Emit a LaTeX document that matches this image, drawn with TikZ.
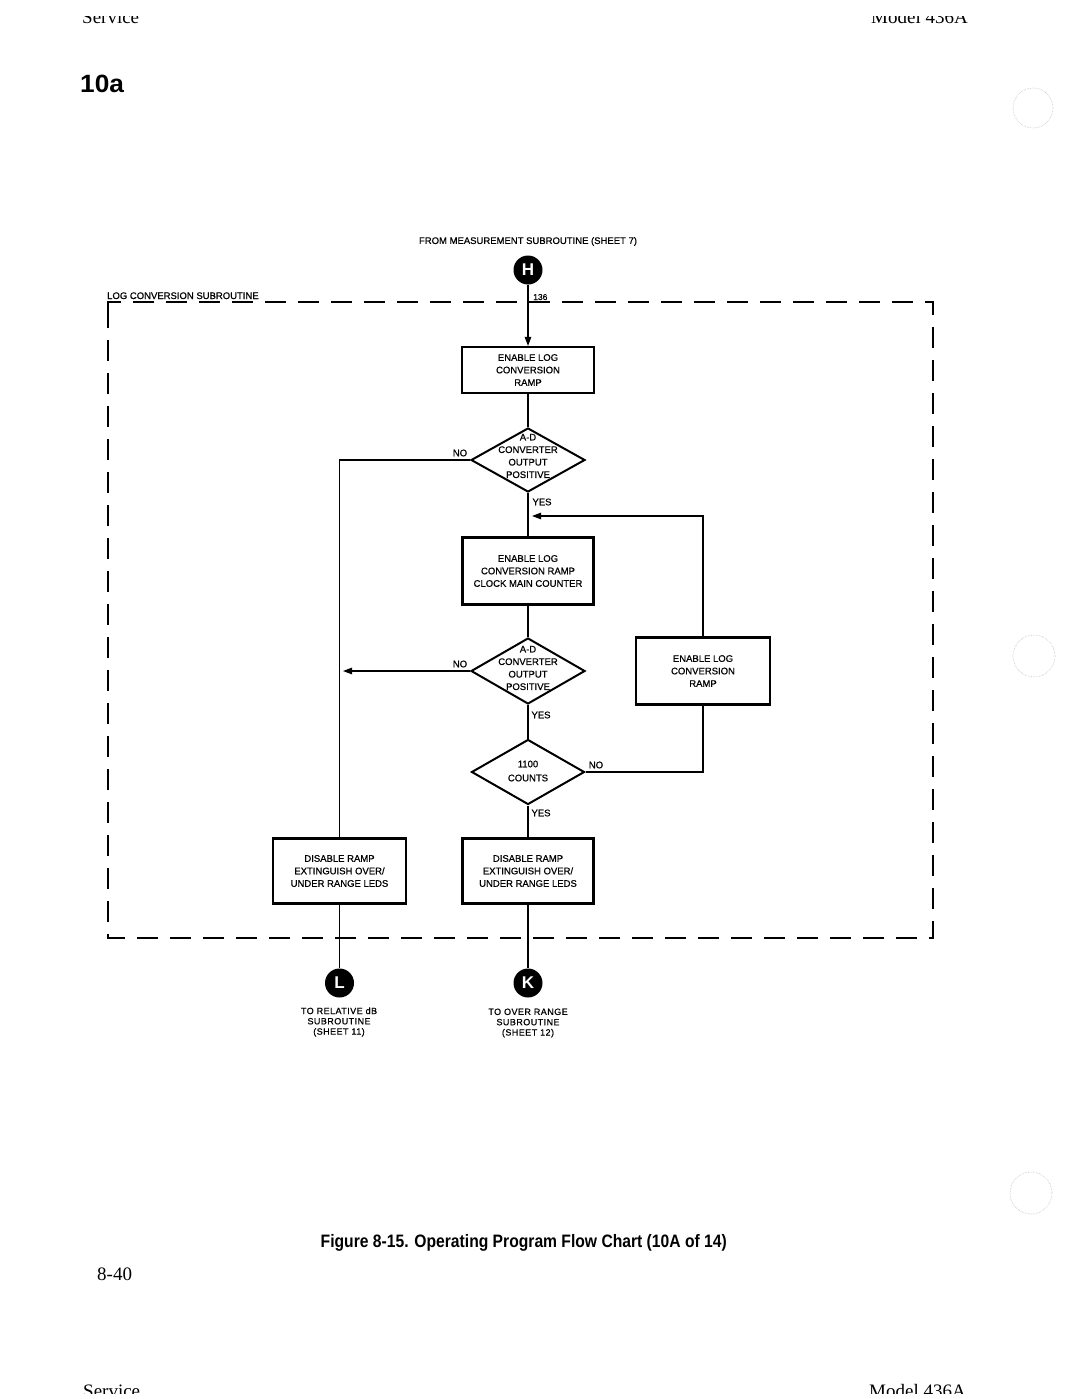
\documentclass[tikz,border=0pt]{standalone}
\usepackage{fontspec}
\setmainfont{Liberation Serif}
\newfontfamily\labfont[FakeBold=0.7]{Liberation Sans}
\newfontfamily\smlfont[FakeBold=0.7,LetterSpace=5]{Liberation Sans}
\newfontfamily\plainsans{Liberation Sans}
\usetikzlibrary{shapes.geometric,arrows.meta}

\begin{document}
\begin{tikzpicture}[x=1pt,y=-1pt,
  lab/.style={font=\labfont\fontsize{9.5}{12.5}\selectfont, align=center, inner sep=0pt},
  small/.style={font=\smlfont\fontsize{9}{10.3}\selectfont, align=center, inner sep=0pt},
  procbox/.style={draw, line width=2.2pt, lab},
  decis/.style={draw, diamond, line width=2pt, inner sep=0pt},
  conn/.style={line width=1.1pt},
  arr/.style={conn, -{Triangle[length=9pt,width=6.5pt]}},
  term/.style={circle, fill=black, minimum size=29pt, inner sep=0pt, text=white,
               font=\plainsans\bfseries\fontsize{17}{17}\selectfont},
  subbox/.style={draw, line width=1.2pt, dash pattern=on 21pt off 12pt},
  punch/.style={draw=black!25, densely dotted, line width=0.6pt},
  serifhead/.style={font=\fontsize{19}{19}\selectfont, inner sep=0pt},
]
\useasboundingbox (0,0) rectangle (1080,1399);

% page furniture
\begin{scope}
  \clip (0,17) rectangle (1080,40);
  \node[serifhead, anchor=base west] (hs) at (82,24) {Service};
  \node[serifhead, anchor=base east] (hm) at (968,24) {Model 436A};
\end{scope}
\begin{scope}
  \clip (0,1370) rectangle (1080,1393);
  \node[serifhead, anchor=base west] (fs) at (83,1397) {Service};
  \node[serifhead, anchor=base east] (fm) at (966,1397) {Model 436A};
\end{scope}
\node[anchor=base west, inner sep=0pt, font=\plainsans\bfseries\fontsize{25}{25}\selectfont] (sheet) at (80,93) {\scalebox{1.05}[1]{10a}};
\node[anchor=base west, inner sep=0pt, font=\fontsize{19}{19}\selectfont] (pg) at (97,1280) {8-40};
\node[anchor=base east, inner sep=0pt, font=\plainsans\bfseries\fontsize{18}{18}\selectfont] (cap) at (727,1247)
  {\scalebox{0.87}[1]{Figure 8-15. Operating Program Flow Chart (10A of 14)}};
\draw[punch] (1033,108) circle (20pt);
\draw[punch] (1034,656) circle (21pt);
\draw[punch] (1031,1193) circle (21pt);

% subroutine frame
\draw[subbox] (108,310) -- (108,302) -- (933,302) -- (933,938) -- (108,938) -- cycle;
\node[lab, anchor=base west] (sublab) at (107,299) {LOG CONVERSION SUBROUTINE};

% entry
\node[lab] (from) at (528,241.5) {FROM MEASUREMENT SUBROUTINE (SHEET 7)};
\node[term] (H) at (528,270) {H};
\node[font=\labfont\fontsize{8.5}{8.5}\selectfont, inner sep=0pt, anchor=base west] (n136) at (533,300) {136};

% process boxes
\node[procbox, minimum width=132pt, minimum height=46pt] (b1) at (528,370) {ENABLE LOG\\CONVERSION\\RAMP};
\node[procbox, minimum width=131pt, minimum height=67pt] (b2) at (528,571) {ENABLE LOG\\CONVERSION RAMP\\CLOCK MAIN COUNTER};
\node[procbox, minimum width=134pt, minimum height=67pt] (bR) at (703,671) {ENABLE LOG\\CONVERSION\\RAMP};
\node[procbox, minimum width=133pt, minimum height=65pt] (bL) at (339.5,871) {DISABLE RAMP\\EXTINGUISH OVER/\\UNDER RANGE LEDS};
\node[procbox, minimum width=131pt, minimum height=65pt] (bK) at (528,871) {DISABLE RAMP\\EXTINGUISH OVER/\\UNDER RANGE LEDS};

% decisions
\node[decis, minimum width=114pt, minimum height=64pt] (d1) at (528,460) {};
\node[lab] (d1t) at (528,456) {A-D\\CONVERTER\\OUTPUT\\POSITIVE};
\node[decis, minimum width=114pt, minimum height=66pt] (d2) at (528,671) {};
\node[lab] (d2t) at (528,668) {A-D\\CONVERTER\\OUTPUT\\POSITIVE};
\node[decis, minimum width=113pt, minimum height=65pt] (d3) at (528,772) {};
\node[font=\labfont\fontsize{9.5}{14}\selectfont, align=center, inner sep=0pt] (d3t) at (528,771) {1100\\COUNTS};

% branch labels
\node[lab] (no1) at (460,453) {NO};
\node[lab] (yes1) at (542,502) {YES};
\node[lab] (no2) at (460,664) {NO};
\node[lab] (yes2) at (541,715) {YES};
\node[lab] (no3) at (596,765) {NO};
\node[lab] (yes3) at (541,813) {YES};

% exits
\node[term] (L) at (339.5,983) {L};
\node[term] (K) at (528,983) {K};
\node[small] (Lt) at (339,1022) {TO RELATIVE dB\\SUBROUTINE\\(SHEET 11)};
\node[small] (Kt) at (528,1023) {TO OVER RANGE\\SUBROUTINE\\(SHEET 12)};

% junction points
\coordinate (j1) at (532,516);
\coordinate (j2) at (343,671);

% connectors
\draw[arr] (H) -- (b1);
\draw[conn] (b1) -- (d1);
\draw[conn] (d1.west) -| (bL.north);
\draw[conn] (d1) -- (b2);
\draw[arr] (bR.north) |- (j1);
\draw[conn] (b2) -- (d2);
\draw[arr] (d2.west) -- (j2);
\draw[conn] (d2) -- (d3);
\draw[conn] (d3.east) -| (bR.south);
\draw[conn] (d3) -- (bK);
\draw[conn] (bL) -- (L);
\draw[conn] (bK) -- (K);
\end{tikzpicture}
\end{document}
